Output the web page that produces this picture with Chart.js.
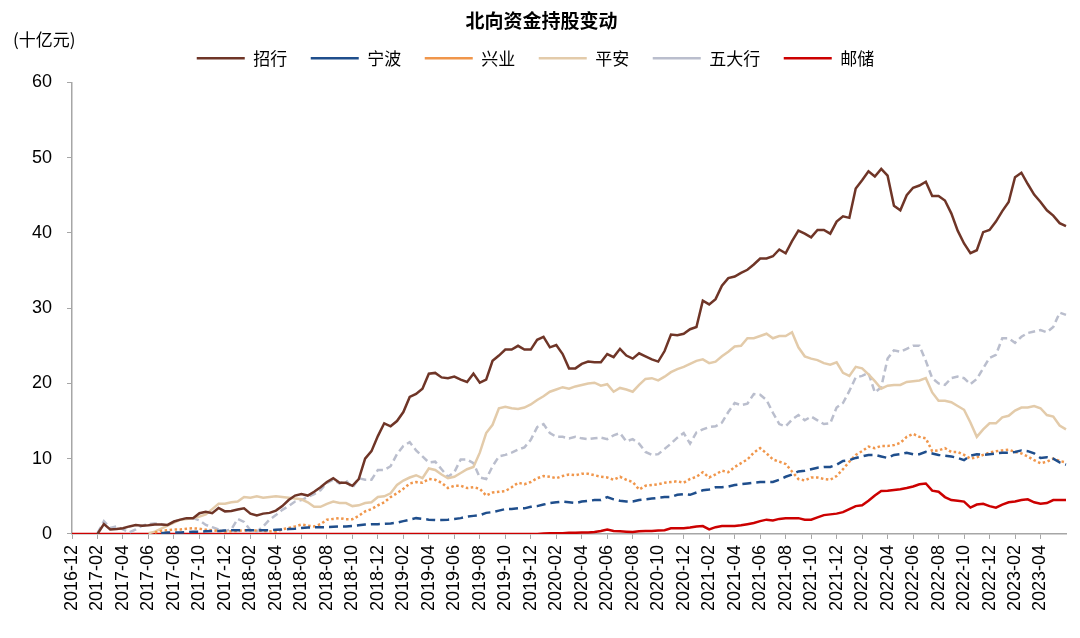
<!DOCTYPE html>
<html>
<head>
<meta charset="utf-8">
<script src="https://cdn.jsdelivr.net/npm/chart.js@4.4.0/dist/chart.umd.min.js"></script>
<style>
  html, body { margin: 0; padding: 0; background: #fff; }
  #wrap { width: 1080px; height: 638px; position: relative; }
</style>
</head>
<body>
<div id="wrap"><canvas id="chart"></canvas></div>
<script>
// 半月度日期：2016-12-01 起，每月 01 / 16 两个点
const dates = [];
for (let k = 0; k < 157; k++) {
  const m = 11 + Math.floor(k / 2);
  const y = 2016 + Math.floor(m / 12);
  const mm = String(m % 12 + 1).padStart(2, '0');
  dates.push(y + '-' + mm + (k % 2 === 0 ? '-01' : '-16'));
}

// 横轴显示的月份
const tickMonths = [
  '2016-12', '2017-02', '2017-04', '2017-06', '2017-08', '2017-10', '2017-12',
  '2018-02', '2018-04', '2018-06', '2018-08', '2018-10', '2018-12',
  '2019-02', '2019-04', '2019-06', '2019-08', '2019-10', '2019-12',
  '2020-02', '2020-04', '2020-06', '2020-08', '2020-10', '2020-12',
  '2021-02', '2021-04', '2021-06', '2021-08', '2021-10', '2021-12',
  '2022-02', '2022-04', '2022-06', '2022-08', '2022-10', '2022-12',
  '2023-02', '2023-04'
];

const yTicks = [0, 10, 20, 30, 40, 50, 60];

// 各银行北向持股市值（十亿元）
const zhaohang = [
  null, null, null, null, 0, 1.3, 0.6, 0.65, 0.75, 1.0,
  1.2, 1.1, 1.15, 1.25, 1.25, 1.2, 1.65, 1.9, 2.1, 2.1,
  2.75, 2.95, 2.75, 3.45, 3.0, 3.05, 3.25, 3.4, 2.7, 2.45,
  2.7, 2.8, 3.1, 3.7, 4.5, 5.1, 5.3, 5.1, 5.6, 6.2,
  6.9, 7.4, 6.8, 6.8, 6.4, 7.3, 10.0, 11.0, 13.0, 14.7,
  14.3, 15.0, 16.2, 18.2, 18.6, 19.3, 21.3, 21.4, 20.8, 20.7,
  20.9, 20.5, 20.2, 21.3, 20.1, 20.5, 23.0, 23.7, 24.5, 24.5,
  25.0, 24.5, 24.5, 25.8, 26.2, 24.8, 25.1, 23.9, 22.0, 22.0,
  22.6, 22.9, 22.8, 22.8, 23.9, 23.5, 24.6, 23.7, 23.3, 24.0,
  23.6, 23.2, 22.9, 24.3, 26.5, 26.4, 26.6, 27.2, 27.5, 31.0,
  30.5, 31.2, 33.0, 34.0, 34.2, 34.7, 35.1, 35.8, 36.6, 36.6,
  36.9, 37.8, 37.3, 38.9, 40.3, 39.9, 39.4, 40.4, 40.4, 39.9,
  41.5, 42.2, 42.0, 45.9, 47.0, 48.2, 47.5, 48.5, 47.6, 43.6,
  43.0, 45.0, 46.0, 46.3, 46.8, 44.9, 44.9, 44.3, 42.6, 40.3,
  38.6, 37.3, 37.7, 40.1, 40.4, 41.5, 42.9, 44.1, 47.4, 48.0,
  46.5, 45.1, 44.1, 43.0, 42.3, 41.3, 40.9
];

const ningbo = [
  null, null, null, null, null, null, null, null, null, null,
  null, null, null, null, 0.1, 0.2, 0.2, 0.2, 0.25, 0.3,
  0.3, 0.35, 0.4, 0.4, 0.45, 0.5, 0.5, 0.5, 0.5, 0.5,
  0.5, 0.5, 0.55, 0.6, 0.65, 0.7, 0.8, 0.85, 0.9, 0.9,
  0.9, 0.95, 1.0, 1.0, 1.05, 1.15, 1.25, 1.3, 1.3, 1.35,
  1.4, 1.5, 1.7, 1.9, 2.1, 2.0, 1.9, 1.85, 1.85, 1.9,
  2.0, 2.1, 2.3, 2.4, 2.5, 2.8, 2.9, 3.1, 3.3, 3.3,
  3.4, 3.4, 3.6, 3.7, 3.9, 4.1, 4.2, 4.3, 4.2, 4.1,
  4.3, 4.4, 4.5, 4.5, 4.9, 4.6, 4.4, 4.3, 4.3, 4.5,
  4.6, 4.7, 4.8, 4.9, 4.9, 5.2, 5.3, 5.2, 5.5, 5.8,
  5.9, 6.2, 6.2, 6.3, 6.5, 6.6, 6.7, 6.8, 6.9, 6.9,
  6.9, 7.2, 7.6, 7.9, 8.3, 8.4, 8.6, 8.8, 8.9, 8.9,
  9.2, 9.7, 9.8, 10.1, 10.3, 10.5, 10.5, 10.3, 10.1, 10.5,
  10.6, 10.8, 10.6, 10.6, 10.9, 10.7, 10.5, 10.4, 10.3, 10.1,
  9.8, 10.4, 10.6, 10.5, 10.6, 10.7, 10.8, 10.8, 10.9, 11.1,
  11.0, 10.7, 10.1, 10.2, 10.0, 9.5, 9.2
];

const xingye = [
  null, null, null, null, null, null, null, null, null, null,
  null, null, null, 0.2, 0.4, 0.5, 0.6, 0.6, 0.7, 0.75,
  0.7, 0.55, 0.5, 0.4, 0.3, 0.35, 0.4, 0.5, 0.5, 0.45,
  0.4, 0.35, 0.3, 0.6, 0.8, 1.0, 1.25, 1.1, 1.0, 1.3,
  1.9, 2.0, 2.1, 1.95, 1.95, 2.4, 3.0, 3.3, 3.8, 4.2,
  4.9, 5.4, 6.0, 6.7, 6.9, 6.8, 7.3, 7.2, 6.8, 6.1,
  6.4, 6.4, 6.1, 6.2, 6.0, 5.1, 5.5, 5.6, 5.7, 6.2,
  6.8, 6.6, 6.9, 7.4, 7.7, 7.6, 7.4, 7.7, 7.9, 7.8,
  8.0, 8.0, 7.8, 7.6, 7.5, 7.2, 7.6, 7.2, 6.9, 5.9,
  6.4, 6.5, 6.6, 6.8, 6.9, 7.0, 6.8, 7.3, 7.6, 8.2,
  7.5, 7.9, 8.4, 8.2, 8.9, 9.4, 9.9, 10.8, 11.4, 10.7,
  9.9, 9.6, 9.3, 8.3, 7.3, 7.1, 7.5, 7.5, 7.3, 7.2,
  7.7, 8.6, 9.6, 10.5, 11.0, 11.6, 11.4, 11.7, 11.7, 11.8,
  12.1, 12.9, 13.3, 12.9, 12.7, 11.0, 11.1, 11.4, 10.9, 10.9,
  10.5, 10.0, 10.2, 10.5, 10.8, 11.0, 11.1, 11.2, 10.9, 10.7,
  10.3, 9.8, 9.4, 9.6, 10.0, 9.7, 9.5
];

const pingan = [
  null, null, null, null, null, null, null, null, null, null,
  null, null, 0.1, 0.3, 0.7, 1.1, 1.5, 1.9, 2.0, 2.1,
  2.3, 2.6, 3.3, 4.0, 4.0, 4.2, 4.3, 4.9, 4.8, 5.0,
  4.8, 4.9, 5.0, 4.9, 4.8, 4.7, 4.6, 4.2, 3.6, 3.6,
  4.0, 4.3, 4.1, 4.1, 3.7, 3.8, 4.1, 4.2, 4.9, 5.0,
  5.4, 6.5, 7.1, 7.5, 7.8, 7.4, 8.7, 8.5, 7.9, 7.4,
  7.6, 8.1, 8.6, 8.9, 10.8, 13.4, 14.5, 16.7, 16.9, 16.7,
  16.6, 16.8, 17.2, 17.8, 18.3, 18.9, 19.2, 19.5, 19.3, 19.6,
  19.8, 20.0, 20.1, 19.7, 19.9, 18.9, 19.4, 19.2, 18.9, 19.8,
  20.6, 20.7, 20.4, 20.9, 21.5, 21.9, 22.2, 22.6, 23.0, 23.2,
  22.7, 22.9, 23.6, 24.2, 24.9, 25.0, 26.0, 26.0, 26.3, 26.6,
  26.0, 26.3, 26.3, 26.8, 24.8, 23.6, 23.3, 23.1, 22.7, 22.5,
  22.8, 21.4, 21.0, 22.2, 22.0, 21.2, 20.3, 19.3, 19.7, 19.8,
  19.8, 20.2, 20.3, 20.4, 20.7, 18.8, 17.7, 17.7, 17.5, 17.0,
  16.5, 14.8, 12.9, 13.9, 14.7, 14.7, 15.5, 15.7, 16.4, 16.8,
  16.8, 17.0, 16.7, 15.8, 15.6, 14.4, 13.9
];

const wudahang = [
  null, null, null, null, 0.1, 1.7, 0.8, 1.0, 0.6, 0.2,
  0.6, 1.1, 1.3, 1.4, 1.3, 1.1, 1.6, 1.9, 2.1, 2.1,
  1.8, 1.2, 0.9, 0.6, 0.4, 0.6, 2.0, 1.6, 0.5, 0.3,
  1.0, 1.9, 2.5, 3.2, 3.7, 4.3, 4.5, 4.9, 5.3, 5.8,
  6.8, 7.2, 6.7, 7.1, 6.1, 7.4, 7.2, 7.2, 8.5, 8.5,
  9.0, 10.6, 11.7, 12.2, 11.1, 10.3, 9.5, 9.6, 8.6, 7.6,
  8.2, 9.9, 9.9, 9.4, 7.5, 7.3, 9.0, 10.3, 10.5, 10.8,
  11.2, 11.5, 12.5, 14.2, 14.6, 13.4, 12.9, 12.9, 12.7, 12.9,
  12.7, 12.6, 12.7, 12.8, 12.6, 13.1, 13.4, 12.3, 12.6, 12.0,
  10.9, 10.5, 10.6, 11.3, 12.0, 12.8, 13.4, 12.0, 13.5, 13.9,
  14.2, 14.3, 14.8, 16.2, 17.4, 17.1, 17.3, 18.6, 18.5, 17.8,
  16.1, 14.6, 14.3, 15.2, 15.8, 15.1, 15.6, 15.1, 14.6, 14.7,
  16.8, 17.4, 19.0, 20.8, 21.0, 21.4, 18.8, 19.5, 23.3, 24.4,
  24.2, 24.6, 25.0, 25.0, 23.0, 20.7, 20.0, 19.8, 20.7, 20.9,
  20.7, 19.9, 20.6, 22.0, 23.4, 23.8, 26.0, 26.0, 25.4, 26.2,
  26.7, 26.9, 27.1, 26.8, 27.5, 29.4, 29.1
];

const youchu = [
  0, 0, 0, 0, 0, 0, 0, 0, 0, 0,
  0, 0, 0, 0, 0, 0, 0, 0, 0, 0,
  0, 0, 0, 0, 0, 0, 0, 0, 0, 0,
  0, 0, 0, 0, 0, 0, 0, 0, 0, 0,
  0, 0, 0, 0, 0, 0, 0, 0, 0, 0,
  0, 0, 0, 0, 0, 0, 0, 0, 0, 0,
  0, 0, 0, 0, 0, 0, 0, 0, 0, 0,
  0, 0, 0, 0, 0.05, 0.1, 0.1, 0.1, 0.15, 0.15,
  0.2, 0.2, 0.25, 0.4, 0.6, 0.4, 0.35, 0.3, 0.25, 0.35,
  0.4, 0.4, 0.45, 0.5, 0.75, 0.75, 0.75, 0.85, 1.0, 1.05,
  0.6, 0.9, 1.05, 1.05, 1.05, 1.15, 1.3, 1.45, 1.7, 1.9,
  1.8, 2.0, 2.1, 2.1, 2.1, 1.9, 1.9, 2.2, 2.5, 2.6,
  2.7, 2.9, 3.3, 3.7, 3.8, 4.4, 5.1, 5.7, 5.75, 5.85,
  5.95, 6.1, 6.3, 6.6, 6.7, 5.75, 5.6, 4.9, 4.5, 4.4,
  4.3, 3.5, 3.9, 4.0, 3.7, 3.5, 3.9, 4.2, 4.3, 4.5,
  4.6, 4.2, 4.0, 4.1, 4.5, 4.5, 4.5
];

const tickSet = new Set(tickMonths.map(m => m + '-01'));

// 图例：与坐标区之间留点空隙，整体略向左
const legendGap = {
  id: 'legendGap',
  beforeInit(chart) {
    const fit = chart.legend.fit;
    chart.legend.fit = function () {
      fit.call(this);
      this.height += 5.6;
      if (this.lineWidths && this.lineWidths.length) this.lineWidths[0] += 12;
    };
  }
};

// 左上角单位
const unitLabel = {
  id: 'unitLabel',
  afterDraw(chart) {
    const ctx = chart.ctx;
    ctx.save();
    ctx.font = '17px "Noto Sans CJK SC"';
    ctx.fillStyle = '#000';
    ctx.textBaseline = 'middle';
    ctx.textAlign = 'left';
    ctx.fillText('(十亿元)', 13, 40);
    ctx.restore();
  }
};

function serie(label, data, color, dash) {
  return {
    label: label,
    data: data,
    borderColor: color,
    backgroundColor: color,
    borderWidth: 2.5,
    borderDash: dash || [],
    borderCapStyle: 'butt',
    pointRadius: 0,
    tension: 0,
    fill: false
  };
}

const axisColor = '#a6a6a6';

new Chart(document.getElementById('chart'), {
  type: 'line',
  data: {
    labels: dates,
    datasets: [
      serie('招行', zhaohang, '#6f3527'),
      serie('宁波', ningbo, '#1f4e8c', [9, 5]),
      serie('兴业', xingye, '#f0964b', [2.5, 2.5]),
      serie('平安', pingan, '#e3cbaa'),
      serie('五大行', wudahang, '#babecd', [7, 4]),
      serie('邮储', youchu, '#cc0000')
    ]
  },
  options: {
    responsive: true,
    maintainAspectRatio: false,
    animation: false,
    devicePixelRatio: 1,
    layout: { padding: { left: 17, right: 14, top: 0, bottom: 21 } },
    plugins: {
      title: {
        display: true,
        text: '北向资金持股变动',
        color: '#000',
        font: { family: 'Noto Sans CJK SC', size: 19, weight: 'bold' },
        padding: { top: 9, bottom: -5.5 }
      },
      legend: {
        position: 'top',
        labels: {
          usePointStyle: true,
          pointStyle: 'line',
          pointStyleWidth: 48,
          padding: 23.5,
          color: '#000',
          font: { family: 'Noto Sans CJK SC', size: 17 }
        }
      },
      tooltip: { enabled: false }
    },
    scales: {
      x: {
        type: 'category',
        offset: false,
        afterBuildTicks(scale) {
          scale.ticks = scale.ticks.filter(t => tickSet.has(dates[t.value]));
        },
        grid: { drawOnChartArea: false, drawTicks: true, tickLength: 5, color: axisColor },
        border: { display: true, color: axisColor, width: 1.5 },
        ticks: {
          autoSkip: false,
          minRotation: 90,
          maxRotation: 90,
          padding: 6,
          color: '#000',
          font: { family: 'Liberation Sans', size: 18 },
          callback(value) {
            return this.getLabelForValue(value).slice(0, 7);
          }
        }
      },
      y: {
        min: yTicks[0],
        max: yTicks[yTicks.length - 1],
        afterBuildTicks(scale) {
          scale.ticks = yTicks.map(v => ({ value: v }));
        },
        grid: { drawOnChartArea: false, drawTicks: true, tickLength: 5, color: axisColor },
        border: { display: true, color: axisColor, width: 1.5 },
        ticks: {
          padding: 15,
          color: '#000',
          font: { family: 'Liberation Sans', size: 18 }
        }
      }
    }
  },
  plugins: [legendGap, unitLabel]
});
</script>
</body>
</html>
